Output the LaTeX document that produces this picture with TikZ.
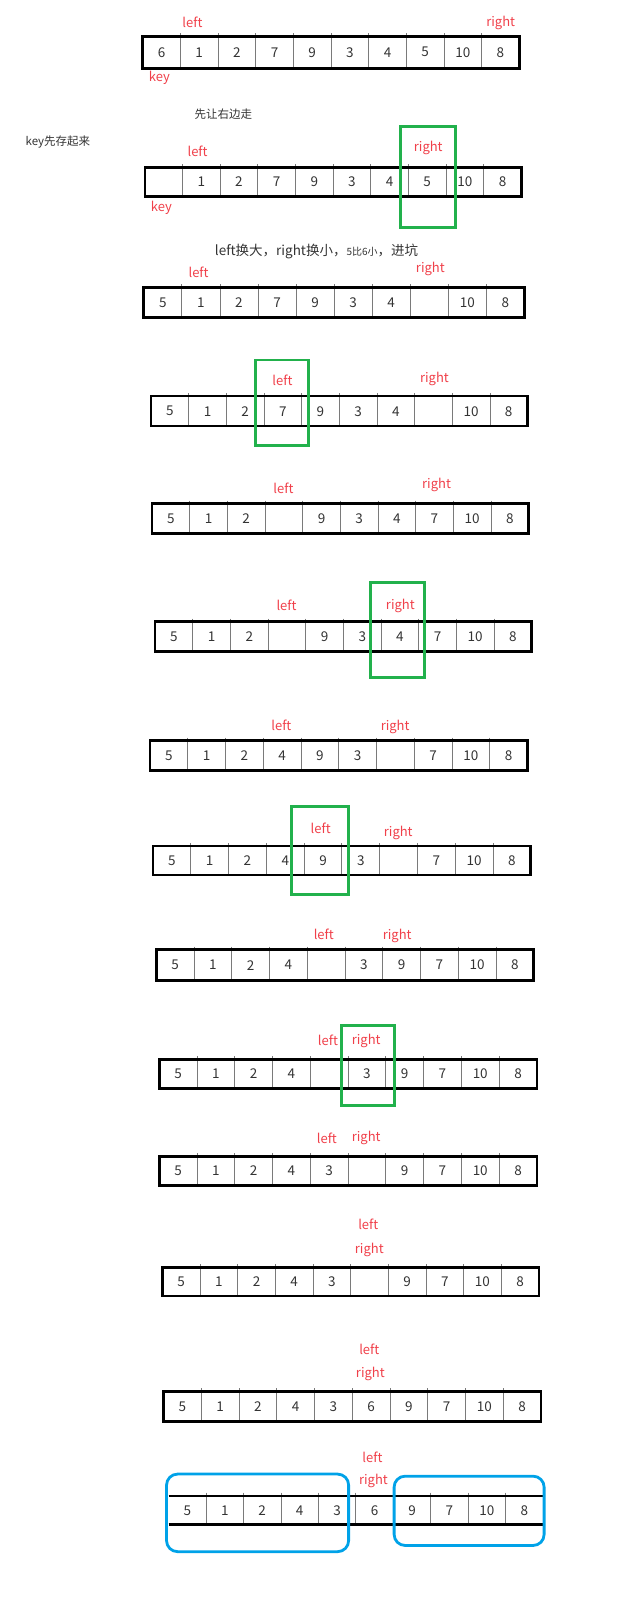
\documentclass[tikz,border=0pt]{standalone}
\usepackage{fontspec}
\newfontfamily\cjk{Noto Sans CJK SC}
\definecolor{lblred}{HTML}{F0404A}
\definecolor{boxgreen}{HTML}{22B14C}
\definecolor{boxblue}{HTML}{00A2E8}
\definecolor{txtgray}{HTML}{333333}
\definecolor{divgray}{HTML}{7A7A7A}
\tikzset{
  outer/.style={line width=2.6pt, draw=black},
  divider/.style={line width=0.8pt, draw=divgray},
  num/.style={font=\cjk\fontsize{13.5}{13.5}\selectfont, text=black!80, inner sep=0pt},
  lbl/.style={font=\cjk\fontsize{13}{13}\selectfont, text=lblred, inner sep=0pt},
  note/.style={font=\cjk\fontsize{11.5}{12}\selectfont, text=txtgray, inner sep=0pt},
  gbox/.style={line width=2.8pt, draw=boxgreen},
  bbox/.style={line width=2.8pt, draw=boxblue, rounded corners=11pt},
}
% #1 name, #2 x0, #3 y0 top, #4 x1, #5 y1 bottom, #6 values
\newcommand{\qarr}[6]{%
  \pgfmathsetmacro\qcw{(#4-#2)/10}%
  \foreach \i in {1,...,9}{\draw[divider] ({#2+\i*\qcw},#3-3) -- ({#2+\i*\qcw},#5);}%
  \foreach \v [count=\i] in {#6}{\node[num] (#1-\i) at ({#2+(\i-0.5)*\qcw},{(#3+#5)/2}) {\v};}%
}
\newcommand{\qbox}[4]{\draw[outer] (#1,#2) rectangle (#3,#4);}
\begin{document}
\begin{tikzpicture}[x=1.0349pt,y=-1.0349pt]
\useasboundingbox (0,0) rectangle (602,1568);
% row 1
\qarr{a}{138}{35}{502}{66}{6,1,2,7,9,3,4,5,10,8}\qbox{138}{35}{502}{66}
\node[lbl] (a-l) at (186,22) {left};
\node[lbl] (a-r) at (484,22) {right};
\node[lbl] (a-k) at (154,75) {key};
% notes
\node[note] (n1) at (216,110) {先让右边走};
\node[note] (n2) at (56,137) {key先存起来};
% row 2
\qarr{b}{140}{162}{504}{190}{{},1,2,7,9,3,4,5,10,8}\qbox{140}{162}{504}{190}
\node[lbl] (b-l) at (191,146) {left};
\node[lbl] (b-r) at (414,143) {right};
\node[lbl] (b-k) at (156,201) {key};
\draw[gbox] (387,122) rectangle (440,220);
% note 3
\node[note, font=\cjk\fontsize{13.5}{14}\selectfont] (n3) at (306,243) {left换大，right换小，{\fontsize{10}{11}\selectfont 5比6小}，进坑};
% row 3
\qarr{c}{139}{278}{507}{307}{5,1,2,7,9,3,4,{},10,8}\qbox{139}{278}{507}{307}
\node[lbl] (c-l) at (192,263) {left};
\node[lbl] (c-r) at (416,260) {right};
% row 4
\qarr{d}{146}{383}{510}{412}{5,1,2,7,9,3,4,{},10,8}\qbox{146}{383}{510}{412}
\node[lbl] (d-l) at (273,368) {left};
\node[lbl] (d-r) at (420,366) {right};
\draw[gbox] (247,348) rectangle (298,431);
% row 5
\qarr{e}{147}{487}{511}{516}{5,1,2,{},9,3,4,7,10,8}\qbox{147}{487}{511}{516}
\node[lbl] (e-l) at (274,472) {left};
\node[lbl] (e-r) at (422,469) {right};
% row 6
\qarr{f}{150}{601}{514}{630}{5,1,2,{},9,3,4,7,10,8}\qbox{150}{601}{514}{630}
\node[lbl] (f-l) at (277,585) {left};
\node[lbl] (f-r) at (387,586) {right};
\draw[gbox] (358,563) rectangle (410,655);
% row 7
\qarr{g}{145}{716}{510}{745}{5,1,2,4,9,3,{},7,10,8}\qbox{145}{716}{510}{745}
\node[lbl] (g-l) at (272,701) {left};
\node[lbl] (g-r) at (382,703) {right};
% row 8
\qarr{h}{148}{818}{513}{846}{5,1,2,4,9,3,{},7,10,8}\qbox{148}{818}{513}{846}
\node[lbl] (h-l) at (310,801) {left};
\node[lbl] (h-r) at (385,805) {right};
\draw[gbox] (282,780) rectangle (337,865);
% row 9
\qarr{i}{151}{918}{516}{948}{5,1,2,4,{},3,9,7,10,8}\qbox{151}{918}{516}{948}
\node[lbl] (i-l) at (313,903) {left};
\node[lbl] (i-r) at (384,905) {right};
% row 10
\qarr{j}{154}{1024}{519}{1052}{5,1,2,4,{},3,9,7,10,8}\qbox{154}{1024}{519}{1052}
\node[lbl] (j-l) at (317,1006) {left};
\node[lbl] (j-r) at (354,1006) {right};
\draw[gbox] (330,991) rectangle (381,1069);
% row 11
\qarr{k}{154}{1118}{519}{1146}{5,1,2,4,3,{},9,7,10,8}\qbox{154}{1118}{519}{1146}
\node[lbl] (k-l) at (316,1100) {left};
\node[lbl] (k-r) at (354,1100) {right};
% row 12
\qarr{m}{157}{1225}{521}{1253}{5,1,2,4,3,{},9,7,10,8}\qbox{157}{1225}{521}{1253}
\node[lbl] (m-l) at (356,1184) {left};
\node[lbl] (m-r) at (357,1208) {right};
% row 13
\qarr{p}{158}{1345}{523}{1374}{5,1,2,4,3,6,9,7,10,8}\qbox{158}{1345}{523}{1374}
\node[lbl] (p-l) at (357,1304) {left};
\node[lbl] (p-r) at (358,1328) {right};
% row 14
\qarr{q}{163}{1446}{525}{1474}{5,1,2,4,3,6,9,7,10,8}
\draw[outer] (163,1446) -- (525,1446);
\draw[outer] (163,1474) -- (525,1474);
\node[lbl] (q-l) at (360,1409) {left};
\node[lbl] (q-r) at (361,1432) {right};
\draw[bbox] (161,1425) rectangle (337,1500);
\draw[bbox] (381,1427) rectangle (526,1494);
\end{tikzpicture}
\end{document}
